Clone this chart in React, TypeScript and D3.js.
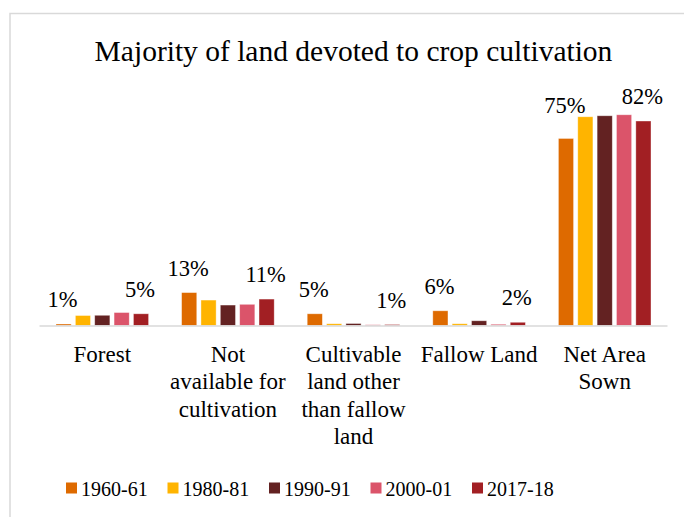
import React from "react";
import * as d3 from "d3";

const categories = [
  ["Forest"],
  ["Not", "available for", "cultivation"],
  ["Cultivable", "land other", "than fallow", "land"],
  ["Fallow Land"],
  ["Net Area", "Sown"],
];
const categoryKeys = ["Forest", "Not available", "Cultivable", "Fallow", "Net Area Sown"];
const seriesNames = ["1960-61", "1980-81", "1990-91", "2000-01", "2017-18"];
const seriesColors = ["#DE6A00", "#FFB400", "#632222", "#DB546A", "#A21F23"];

const v1960 = [0.6, 13.2, 4.7, 5.9, 75];
const v1980 = [4.0, 10.2, 0.7, 0.7, 83.7];
const v1990 = [4.1, 8.2, 0.8, 1.9, 84.1];
const v2000 = [5.2, 8.5, 0.3, 0.5, 84.5];
const v2017 = [4.7, 10.6, 0.4, 1.3, 82];
const seriesValues = [v1960, v1980, v1990, v2000, v2017];
const labelValues = [
  ["1%", null, null, null, "5%"],
  ["13%", null, null, null, "11%"],
  ["5%", null, null, null, "1%"],
  ["6%", null, null, null, "2%"],
  ["75%", null, null, null, "82%"],
];

const W = 684;
const H = 517;
const F = "Liberation Serif";

export default function App() {
  const left = 39.5;
  const right = 667.5;
  const baseY = 325.5;
  const y = d3.scaleLinear().domain([0, 82]).range([baseY, 121]);
  const x0 = d3.scaleBand<string>().domain(categoryKeys).range([left, right]).paddingInner(0).paddingOuter(0);
  const x1 = d3
    .scaleBand<string>()
    .domain(seriesNames)
    .range([16.5, x0.bandwidth() - 16.5])
    .paddingInner(0.216)
    .paddingOuter(0);

  const bars: any[] = [];
  const labels: any[] = [];
  categoryKeys.forEach((c, ci) => {
    seriesNames.forEach((s, si) => {
      const v = seriesValues[si][ci];
      const bx = (x0(c) as number) + (x1(s) as number);
      const by = y(v);
      bars.push({ key: c + s, x: bx, y: by, w: x1.bandwidth(), h: baseY - by, color: seriesColors[si] });
      const lab = labelValues[ci][si];
      if (lab) {
        let ly = by - 17;
        const neighbours = [si - 1, si + 1].filter((k) => k >= 0 && k < seriesNames.length);
        neighbours.forEach((k) => {
          const ny = y(seriesValues[k][ci]);
          if (ny < ly) ly = Math.min(ly, ny - 4);
        });
        labels.push({ key: "l" + c + s, x: bx + x1.bandwidth() / 2 - 1, y: ly, text: lab });
      }
    });
  });

  const legendX = d3.scalePoint<string>().domain(seriesNames).range([66, 472]);

  return (
    <svg width={W} height={H} style={{ position: "absolute", left: 0, top: 0, background: "#fff" }}>
      <rect x={10} y={13.5} width={690} height={520} fill="#fff" stroke="#D9D9D9" strokeWidth={1.5} />
      <text x={353.5} y={61} textAnchor="middle" fontFamily={F} fontSize={29.5} fill="#000">
        Majority of land devoted to crop cultivation
      </text>
      {bars.map((b) => (
        <rect key={b.key} x={b.x} y={b.y} width={b.w} height={Math.max(b.h, 0)} fill={b.color} stroke="#fff" strokeOpacity={0.5} strokeWidth={0.75} />
      ))}
      <line x1={left} x2={right} y1={baseY + 0.5} y2={baseY + 0.5} stroke="#D9D9D9" strokeWidth={1.5} />
      {labels.map((l) => (
        <text key={l.key} x={l.x} y={l.y} textAnchor="middle" fontFamily={F} fontSize={22.5} fill="#000">
          {l.text}
        </text>
      ))}
      {categories.map((lines, ci) => (
        <text key={"c" + ci} textAnchor="middle" fontFamily={F} fontSize={23} fill="#000">
          {lines.map((ln, li) => (
            <tspan key={li} x={(x0(categoryKeys[ci]) as number) + x0.bandwidth() / 2} y={361.5 + li * 27.6}>
              {ln}
            </tspan>
          ))}
        </text>
      ))}
      {seriesNames.map((s, si) => (
        <g key={"lg" + s} transform={`translate(${legendX(s)},0)`}>
          <rect x={0} y={482.5} width={11} height={11} fill={seriesColors[si]} />
          <text x={15} y={496} fontFamily={F} fontSize={20} fill="#000">
            {s}
          </text>
        </g>
      ))}
    </svg>
  );
}
